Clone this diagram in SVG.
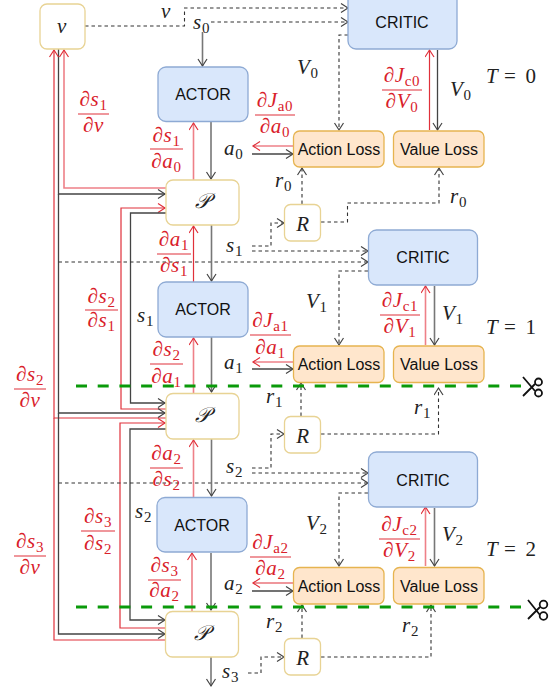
<svg xmlns="http://www.w3.org/2000/svg" width="552" height="690" viewBox="0 0 552 690">
<style>
rect{stroke-width:1.3}
.y rect{fill:#fff;stroke:#e8d394}
.b rect{fill:#d9e7fb;stroke:#8eaad4}
.o rect{fill:#ffe6cc;stroke:#e6b450}
.b text,.o text{font-family:"Liberation Sans",Arial,sans-serif;font-size:16px;fill:#111;text-anchor:middle}
.m{font-family:"Liberation Serif","Times New Roman",serif;font-style:italic;font-size:21px;letter-spacing:.7px;fill:#222}
.c{text-anchor:middle}
.rt{fill:#d9202a}
.s{font-size:15px;font-style:normal}
.u{font-style:normal;word-spacing:3px}
#conn path{fill:none}
.k{stroke:#444;stroke-width:1.3;marker-end:url(#ak)}
.g{stroke:#777;stroke-width:1.6;marker-end:url(#ak)}
.d{stroke:#333;stroke-width:1.1;stroke-dasharray:3.5 3;marker-end:url(#ak)}
.r{stroke:#e0303a;stroke-width:1.2;marker-end:url(#ar)}
.rn{stroke:#e0303a;stroke-width:1.2}
.l{stroke:#ee8088;stroke-width:1.6;marker-end:url(#ar)}
.bar{stroke:#e0303a;stroke-width:1.2}
.cut{stroke:#0a9a0a;stroke-width:3;stroke-dasharray:11 10.7;fill:none}
.sc{stroke:#111;stroke-width:1.8;fill:none}
</style>
<defs>
<marker id="ak" markerUnits="userSpaceOnUse" markerWidth="12" markerHeight="12" refX="8" refY="5" orient="auto"><path d="M1 0.5L8 5L1 9.500" fill="none" stroke="#444" stroke-width="1.2"/></marker>
<marker id="ar" markerUnits="userSpaceOnUse" markerWidth="12" markerHeight="12" refX="8" refY="5" orient="auto"><path d="M1 0.5L8 5L1 9.500" fill="none" stroke="#e0303a" stroke-width="1.2"/></marker>
</defs>
<g id="conn">
<path class="d" d="M85 26H184.500V8H348"/>
<path class="d" d="M211 22H348"/>
<path class="g" d="M202.500 32V66"/>
<path class="g" d="M211 122V179"/>
<path class="l" d="M193.500 180V123"/>
<path class="l" d="M166 188H64V50"/>
<path class="k" d="M58.500 49V194H165"/>
<path class="r" d="M166 418H54V50"/>
<path class="r" d="M166 409H121V208H165"/>
<path class="k" d="M166 213H130.500V403H165"/>
<path class="k" d="M58.500 194V413H165"/>
<path class="r" d="M166 628H120V423H165"/>
<path class="k" d="M166 429H130V620H165"/>
<path class="k" d="M58.500 413V634H165"/>
<path class="rn" d="M54 418V640H166" fill="none"/>
<path class="d" d="M58.500 262H368"/>
<path class="d" d="M252 246H271V223H284"/>
<path class="d" d="M252 251H368"/>
<path class="d" d="M58.500 483H368"/>
<path class="d" d="M252 468H271V434H284"/>
<path class="d" d="M252 473H368"/>
<path class="g" d="M211.500 225V281"/>
<path class="r" d="M193.500 282V226"/>
<path class="g" d="M211.500 337V392"/>
<path class="l" d="M193.500 393V338"/>
<path class="g" d="M211.500 439V496"/>
<path class="l" d="M193.500 497V440"/>
<path class="g" d="M211 553V610"/>
<path class="l" d="M192 611V553"/>
<path class="g" d="M211 657V686"/>
<path class="d" d="M248 673H261V657H284"/>
<path class="d" d="M302 204V168"/>
<path class="d" d="M321 222H347.500V203H439V168"/>
<path class="d" d="M301 416V383"/>
<path class="d" d="M321 434H438.500V388"/>
<path class="d" d="M302 638V605"/>
<path class="d" d="M321 657H431V605"/>
<path class="d" d="M348 35H339V130"/>
<path class="d" d="M368 271H339V345"/>
<path class="d" d="M368 493H339V566"/>
<path class="r" d="M429.500 130V50"/>
<path class="k" d="M437.500 50V130"/>
<path class="l" d="M425.500 345V286"/>
<path class="g" d="M434.500 286V345"/>
<path class="l" d="M425.500 566V507"/>
<path class="g" d="M434.500 508V566"/>
<path class="k" d="M252 154H293"/>
<path class="l" d="M293 146H253"/>
<path class="k" d="M252 369H293"/>
<path class="l" d="M293 362H253"/>
<path class="k" d="M252 591H293"/>
<path class="r" d="M293 583H253"/>
</g>
<g id="node-v" class="y"><rect x="40" y="4" width="45" height="45" rx="7"/><text class="m c" x="62" y="33">v</text></g>
<g id="critic-0" class="b"><rect x="348" y="-10" width="109" height="59" rx="8"/><text x="402" y="28">CRITIC</text></g>
<g id="actor-0" class="b"><rect x="158" y="67" width="90" height="54.500" rx="8"/><text x="203" y="100">ACTOR</text></g>
<g id="action-loss-0" class="o"><rect x="293.500" y="131" width="90.500" height="36" rx="6"/><text x="339" y="155">Action Loss</text></g>
<g id="value-loss-0" class="o"><rect x="393.500" y="131" width="90.500" height="36" rx="6"/><text x="439" y="155">Value Loss</text></g>
<g id="p-0" class="y"><rect x="166" y="180" width="73" height="45" rx="7"/><text class="m c" x="202.500" y="208">𝒫</text></g>
<g id="r-0" class="y"><rect x="284.500" y="204.500" width="36" height="36.500" rx="6"/><text class="m c" x="303" y="231">R</text></g>
<g id="critic-1" class="b"><rect x="368.500" y="230" width="109" height="55" rx="8"/><text x="423" y="263">CRITIC</text></g>
<g id="actor-1" class="b"><rect x="158" y="282" width="90" height="55" rx="8"/><text x="203" y="315">ACTOR</text></g>
<g id="action-loss-1" class="o"><rect x="293.500" y="346" width="90.500" height="36.500" rx="6"/><text x="339" y="370">Action Loss</text></g>
<g id="value-loss-1" class="o"><rect x="393.500" y="346" width="90.500" height="36.500" rx="6"/><text x="439" y="370">Value Loss</text></g>
<g id="p-1" class="y"><rect x="166" y="393.500" width="73" height="45.500" rx="7"/><text class="m c" x="202.500" y="422">𝒫</text></g>
<g id="r-1" class="y"><rect x="284.500" y="416.500" width="36" height="36.500" rx="6"/><text class="m c" x="303" y="443">R</text></g>
<g id="critic-2" class="b"><rect x="368.500" y="452" width="109" height="55" rx="8"/><text x="423" y="486">CRITIC</text></g>
<g id="actor-2" class="b"><rect x="157" y="497.500" width="90" height="54.500" rx="8"/><text x="202" y="531">ACTOR</text></g>
<g id="action-loss-2" class="o"><rect x="293.500" y="567.500" width="90.500" height="36.500" rx="6"/><text x="339" y="592">Action Loss</text></g>
<g id="value-loss-2" class="o"><rect x="393.500" y="567.500" width="90.500" height="36.500" rx="6"/><text x="439" y="592">Value Loss</text></g>
<g id="p-2" class="y"><rect x="165.500" y="611.500" width="73" height="45.500" rx="7"/><text class="m c" x="202" y="640">𝒫</text></g>
<g id="r-2" class="y"><rect x="284.500" y="638.500" width="36" height="36.500" rx="6"/><text class="m c" x="303" y="665">R</text></g>
<g id="cuts">
<path class="cut" d="M76 386H522"/>
<path class="cut" d="M76 607H526"/>
<path class="sc" d="M523 377L535 391M523 396L535 384"/><circle class="sc" cx="538.500" cy="382" r="3.500"/><circle class="sc" cx="538.500" cy="393" r="3.500"/>
<path class="sc" d="M528 600L540 615M528 619L540 607"/><circle class="sc" cx="543.500" cy="604.500" r="3.800"/><circle class="sc" cx="543.500" cy="616" r="3.800"/>
</g>
<g id="labels">
<text class="m" x="161" y="18">v</text>
<text class="m" x="193" y="29">s<tspan class="s" dy="4">0</tspan></text>
<text class="m" x="224" y="155">a<tspan class="s" dy="4">0</tspan></text>
<text class="m" x="224" y="369">a<tspan class="s" dy="4">1</tspan></text>
<text class="m" x="224" y="590">a<tspan class="s" dy="4">2</tspan></text>
<text class="m" x="226" y="252">s<tspan class="s" dy="4">1</tspan></text>
<text class="m" x="226" y="473">s<tspan class="s" dy="4">2</tspan></text>
<text class="m" x="137" y="322">s<tspan class="s" dy="4">1</tspan></text>
<text class="m" x="135" y="518">s<tspan class="s" dy="4">2</tspan></text>
<text class="m" x="222" y="678">s<tspan class="s" dy="4">3</tspan></text>
<text class="m" x="275" y="187">r<tspan class="s" dy="4">0</tspan></text>
<text class="m" x="450" y="203">r<tspan class="s" dy="4">0</tspan></text>
<text class="m" x="266" y="403">r<tspan class="s" dy="4">1</tspan></text>
<text class="m" x="414" y="414">r<tspan class="s" dy="4">1</tspan></text>
<text class="m" x="266" y="628">r<tspan class="s" dy="4">2</tspan></text>
<text class="m" x="402" y="632">r<tspan class="s" dy="4">2</tspan></text>
<text class="m" x="297" y="74">V<tspan class="s" dy="4">0</tspan></text>
<text class="m" x="450" y="96">V<tspan class="s" dy="4">0</tspan></text>
<text class="m" x="306" y="308">V<tspan class="s" dy="4">1</tspan></text>
<text class="m" x="442" y="320">V<tspan class="s" dy="4">1</tspan></text>
<text class="m" x="306" y="530">V<tspan class="s" dy="4">2</tspan></text>
<text class="m" x="442" y="541">V<tspan class="s" dy="4">2</tspan></text>
<text class="m" x="486" y="83">T <tspan class="u">= 0</tspan></text>
<text class="m" x="486" y="334">T <tspan class="u">= 1</tspan></text>
<text class="m" x="486" y="556">T <tspan class="u">= 2</tspan></text>
</g>
<g id="gradients">
<path class="bar" d="M78 114H109M150 149H183M255 115H295M382 90H422M157 254H191M85 310H118M150 364H183M14 389H46M250 335H291M380 315H420M150 468H183M81 531H115M148 580H181M14 556H46M250 557H291M379 539H420"/>
<text class="m c rt" x="93.500" y="106">∂s<tspan class="s" dy="4">1</tspan></text><text class="m c rt" x="93.500" y="132">∂v</text>
<text class="m c rt" x="166.500" y="142">∂s<tspan class="s" dy="4">1</tspan></text><text class="m c rt" x="166.500" y="168">∂a<tspan class="s" dy="4">0</tspan></text>
<text class="m c rt" x="275" y="107">∂J<tspan class="s" dy="4">a0</tspan></text><text class="m c rt" x="275" y="133">∂a<tspan class="s" dy="4">0</tspan></text>
<text class="m c rt" x="402" y="82">∂J<tspan class="s" dy="4">c0</tspan></text><text class="m c rt" x="402" y="108">∂V<tspan class="s" dy="4">0</tspan></text>
<text class="m c rt" x="174" y="246">∂a<tspan class="s" dy="4">1</tspan></text><text class="m c rt" x="174" y="272">∂s<tspan class="s" dy="4">1</tspan></text>
<text class="m c rt" x="101.500" y="303">∂s<tspan class="s" dy="4">2</tspan></text><text class="m c rt" x="101.500" y="327">∂s<tspan class="s" dy="4">1</tspan></text>
<text class="m c rt" x="166.500" y="356">∂s<tspan class="s" dy="4">2</tspan></text><text class="m c rt" x="166.500" y="383">∂a<tspan class="s" dy="4">1</tspan></text>
<text class="m c rt" x="30" y="381">∂s<tspan class="s" dy="4">2</tspan></text><text class="m c rt" x="30" y="407">∂v</text>
<text class="m c rt" x="270.500" y="327">∂J<tspan class="s" dy="4">a1</tspan></text><text class="m c rt" x="270.500" y="354">∂a<tspan class="s" dy="4">1</tspan></text>
<text class="m c rt" x="400" y="307">∂J<tspan class="s" dy="4">c1</tspan></text><text class="m c rt" x="400" y="333">∂V<tspan class="s" dy="4">1</tspan></text>
<text class="m c rt" x="166.500" y="460">∂a<tspan class="s" dy="4">2</tspan></text><text class="m c rt" x="166.500" y="486">∂s<tspan class="s" dy="4">2</tspan></text>
<text class="m c rt" x="98" y="523">∂s<tspan class="s" dy="4">3</tspan></text><text class="m c rt" x="98" y="550">∂s<tspan class="s" dy="4">2</tspan></text>
<text class="m c rt" x="164.500" y="572">∂s<tspan class="s" dy="4">3</tspan></text><text class="m c rt" x="164.500" y="597">∂a<tspan class="s" dy="4">2</tspan></text>
<text class="m c rt" x="30" y="548">∂s<tspan class="s" dy="4">3</tspan></text><text class="m c rt" x="30" y="574">∂v</text>
<text class="m c rt" x="270.500" y="549">∂J<tspan class="s" dy="4">a2</tspan></text><text class="m c rt" x="270.500" y="575">∂a<tspan class="s" dy="4">2</tspan></text>
<text class="m c rt" x="399.500" y="531">∂J<tspan class="s" dy="4">c2</tspan></text><text class="m c rt" x="399.500" y="557">∂V<tspan class="s" dy="4">2</tspan></text>
</g>
</svg>
